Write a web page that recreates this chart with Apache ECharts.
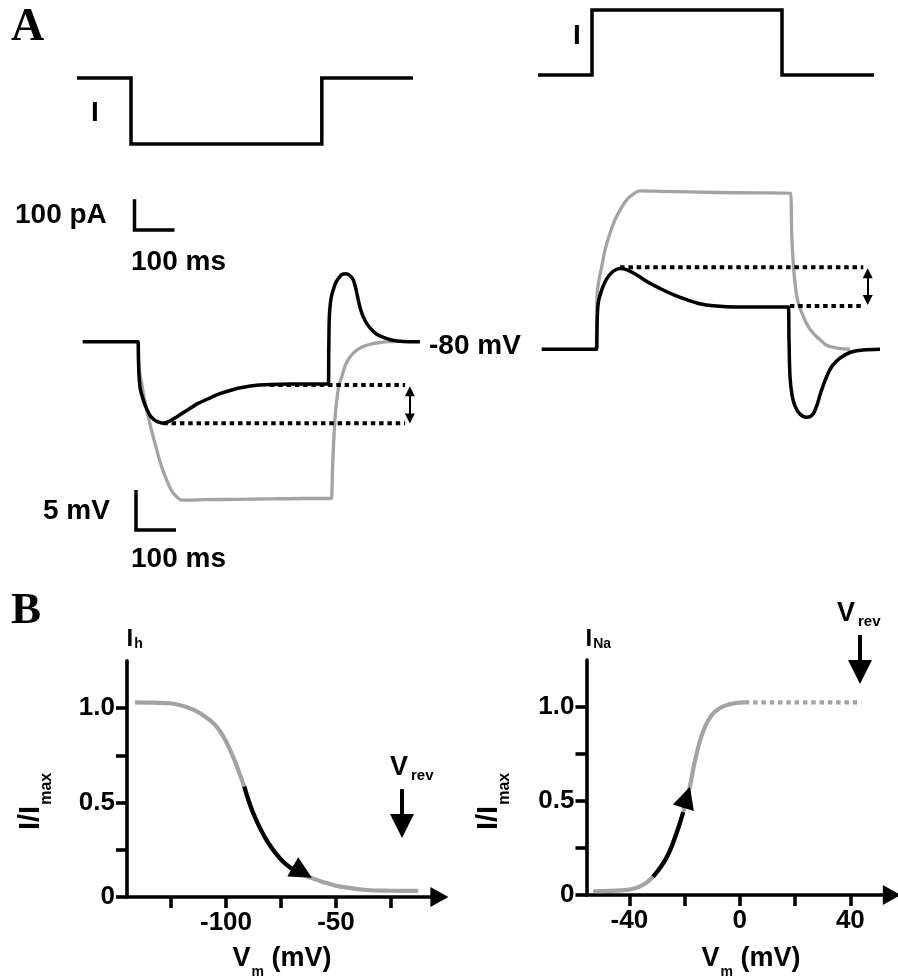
<!DOCTYPE html>
<html>
<head>
<meta charset="utf-8">
<script src="https://cdn.jsdelivr.net/npm/echarts@6.0.0/dist/echarts.min.js"></script>
<style>
html,body{margin:0;padding:0;background:#fff;}
#chart{width:898px;height:978px;}
</style>
</head>
<body>
<div id="chart"></div>
<script>
// ================= DATA =================
// Panel A – command current steps: time (ms), current (pA)
const stepHypTime = [0, 135, 135, 612, 612, 840];
const stepHypCurrent = [0, 0, -213, -213, 0, 0];
const stepDepTime = [0, 135, 135, 610, 610, 840];
const stepDepCurrent = [0, 0, 210, 210, 0, 0];

// Panel A – hyperpolarizing step responses: time (ms), Vm (mV)
const hypBlackTime = [0, 134, 138.5, 139.3, 141, 144, 151.5, 160, 168, 177, 186.5, 201.5, 215, 235, 260, 285, 315, 343, 375, 401.5, 435, 468, 520, 580, 611, 614, 615.2, 616.5, 619, 622, 626.5, 632, 639, 648, 658, 667, 676.5, 683, 689, 695, 701.5, 711, 722.5, 736, 751.5, 770, 785, 815, 843];
const hypBlackV = [-80, -80, -80, -82, -84.4, -85.9, -87.3, -88.4, -89.2, -89.7, -90.0, -90.2, -90.0, -89.4, -88.6, -87.8, -87.1, -86.5, -86.0, -85.7, -85.45, -85.35, -85.3, -85.3, -85.3, -85.3, -81.0, -76.9, -75.3, -74.3, -73.5, -72.7, -72.1, -71.6, -71.5, -71.7, -72.3, -73.4, -74.8, -76.0, -76.9, -77.8, -78.5, -79.1, -79.45, -79.75, -79.9, -80, -80];
const hypGrayTime = [136, 138.5, 139.5, 141, 144, 147.5, 155, 164, 174, 185, 197, 210, 222, 235, 247.5, 270, 300, 385, 470, 551.5, 620, 622.5, 624.5, 626.5, 630.5, 635, 641, 647.5, 657, 668, 684, 701.5, 720, 743, 768, 780];
const hypGrayV = [-80, -80, -81.5, -83.2, -84.3, -85.2, -87.4, -89.4, -91.5, -93.5, -95.6, -97.3, -98.6, -99.4, -99.8, -99.8, -99.75, -99.7, -99.65, -99.6, -99.6, -99.4, -96.0, -93.5, -89.8, -87.3, -85.4, -84.4, -82.9, -81.9, -81.1, -80.6, -80.3, -80.1, -80, -80];
const hypDotHighTime = [468, 806];
const hypDotHighV = [-85.4, -85.4];
const hypDotLowTime = [201.5, 806];
const hypDotLowV = [-90.2, -90.2];
const hypArrowTime = [818, 818];
const hypArrowV = [-86.2, -89.6];

// Panel A – depolarizing step responses: time (ms), Vm (mV)
const depBlackTime = [0, 135, 137.5, 138.2, 139, 142, 150, 157, 166.5, 180, 196, 215, 237.5, 265, 296, 330, 362.5, 395, 429, 487.5, 550, 612.5, 616.5, 618.25, 620.75, 625.75, 633.25, 645.75, 663.25, 678.25, 688.25, 698.25, 712.5, 725.75, 745.75, 770.75, 803.25, 845.75];
const depBlackV = [-80, -80, -80, -78, -75.9, -74.0, -72.6, -71.7, -70.9, -70.2, -69.9, -70.1, -70.7, -71.6, -72.4, -73.2, -73.8, -74.3, -74.55, -74.7, -74.7, -74.7, -74.7, -78.8, -83.4, -85.7, -87.1, -88.1, -88.5, -88.1, -86.96, -85.3, -83.4, -82.1, -81.1, -80.4, -80.1, -80];
const depGrayTime = [136.5, 137.5, 138.75, 143.25, 150, 158.25, 170.75, 183.25, 195.75, 208.25, 220.75, 245.75, 300, 437.5, 540, 622.5, 624, 625, 628.25, 633.25, 640.75, 654, 665.75, 679, 695.75, 712.5, 733.25, 754, 770.75];
const depGrayV = [-80, -76.3, -73, -71.3, -69.7, -67.6, -65.5, -63.8, -62.6, -61.6, -60.9, -60.2, -60.25, -60.4, -60.45, -60.5, -62.6, -65.5, -68.8, -71.75, -74.1, -75.9, -77.1, -78, -78.8, -79.5, -79.8, -79.96, -80];
const depDotHighTime = [196, 804];
const depDotHighV = [-69.75, -69.75];
const depDotLowTime = [620.5, 804];
const depDotLowV = [-74.6, -74.6];
const depArrowTime = [815, 815];
const depArrowV = [-70.5, -73.85];

// Scale bars
const scaleBarTime = [0, 0, 100];        // ms
const scaleBarCurrent = [100, 0, 0];     // pA
const scaleBarVoltage = [5, 0, 0];       // mV

// Panel B – Ih activation curve: Vm (mV), I/Imax
const ihV = [-141.4, -133, -125.5, -118, -111.8, -104.2, -98.2, -91.7, -87.6, -81.5, -74, -66.4, -61, -56, -51.2, -44, -36, -25, -12.6];
const ihI = [1.03, 1.028, 1.025, 1.005, 0.972, 0.90, 0.78, 0.584, 0.443, 0.30, 0.187, 0.125, 0.10, 0.08, 0.063, 0.048, 0.037, 0.033, 0.032];
const ihArrowV = [-69.7, -65.3];
const ihArrowI = [0.160, 0.131];
const ihVrev = -20;
const ihVrevArrowI = [0.571, 0.376];
const ihXTicks = [-125, -100, -75, -50, -25];
const ihXLabels = [-100, -50];

// Panel B – INa activation curve
const naV = [-53.1, -47, -41, -36.2, -31.4, -26.5, -22.9, -20.5, -18.1, -16.3, -13.3, -9.7, -4.8, 1.8];
const naI = [0.02, 0.022, 0.027, 0.044, 0.097, 0.20, 0.33, 0.44, 0.576, 0.71, 0.87, 0.965, 1.01, 1.025];
const naPlateauV = [1.8, 44];
const naPlateauI = [1.025, 1.025];
const naArrowV = [-20.45, -19.26];
const naArrowI = [0.464, 0.520];
const naVrev = 43.5;
const naVrevArrowI = [1.383, 1.186];
const naXTicks = [-40, -20, 0, 20, 40];
const naXLabels = [-40, 0, 40];

const yTicks = [0, 0.25, 0.5, 0.75, 1.0];
const yLabels = [0, 0.5, 1.0];

// ================= RENDER =================
const FONT = '"Liberation Sans", Arial, sans-serif';
const SERIF = '"Liberation Serif", "Times New Roman", serif';
const GRAY = '#a3a3a3';
const pair = (xs, ys) => xs.map((x, i) => [x, ys[i]]);

const chart = echarts.init(document.getElementById('chart'), null, {renderer: 'canvas', width: 898, height: 978});

const grids = [
  {left: 77, top: 62.5, width: 340, height: 93},        // 0 hyp step
  {left: 538, top: 3.7, width: 340, height: 86.8},      // 1 dep step
  {left: 82.7, top: 221.7, width: 340, height: 320},    // 2 hyp traces
  {left: 541.7, top: 149.3, width: 340, height: 320},   // 3 dep traces
  {left: 134.5, top: 199.3, width: 40, height: 30.7},   // 4 pA scale bar
  {left: 136, top: 490, width: 40, height: 40},         // 5 mV scale bar
  {left: 586.5, top: 613, width: 305.3, height: 282},   // 6 INa overlay (extended I range, for Vrev arrow)
  {left: 127, top: 660.75, width: 312.4, height: 236.25}, // 7 Ih
  {left: 586.5, top: 660, width: 305.3, height: 235}    // 8 INa
].map(g => Object.assign({containLabel: false, outerBoundsMode: 'none'}, g));

const hidden = [
  [0, 850, -250, 50],
  [0, 850, -50, 230],
  [0, 850, -105, -65],
  [0, 850, -95, -55],
  [0, 100, 0, 100],
  [0, 100, 0, 5],
  [-55.5, 55, 0, 1.5]
];
const xAxes = [], yAxes = [];
hidden.forEach((r, i) => {
  xAxes.push({type: 'value', gridIndex: i, min: r[0], max: r[1], show: false});
  yAxes.push({type: 'value', gridIndex: i, min: r[2], max: r[3], show: false});
});
const axLine = {color: '#000', width: 3.6};
const lblStyle = {color: '#000', fontSize: 26, fontWeight: 'bold', fontFamily: FONT};
function bX(gi, min, max, ticks, labels) {
  return {type: 'value', gridIndex: gi, min, max,
    axisLine: {show: true, onZero: false, symbol: ['none', 'triangle'], symbolSize: [20, 18], lineStyle: axLine},
    axisTick: {show: true, customValues: ticks, length: 11, lineStyle: axLine},
    axisLabel: Object.assign({show: true, customValues: labels, margin: 13}, lblStyle),
    splitLine: {show: false}};
}
function bY(gi) {
  return {type: 'value', gridIndex: gi, min: 0, max: 1.25,
    axisLine: {show: true, onZero: false, lineStyle: axLine},
    axisTick: {show: true, customValues: yTicks, length: 11, lineStyle: axLine},
    axisLabel: Object.assign({show: true, customValues: yLabels, margin: 12,
      formatter: v => (v === 0 ? '0' : v.toFixed(1))}, lblStyle),
    splitLine: {show: false}};
}
xAxes.push(bX(7, -145, -3, ihXTicks, ihXLabels));
yAxes.push(bY(7));
xAxes.push(bX(8, -55.5, 55, naXTicks, naXLabels));
yAxes.push(bY(8));

function line(gi, data, color, width, extra) {
  return Object.assign({type: 'line', xAxisIndex: gi, yAxisIndex: gi, data, symbol: 'none', showSymbol: false,
    clip: false, silent: true, animation: false,
    lineStyle: {color, width, cap: 'butt', join: 'round'}}, extra || {});
}
function dotted(gi, data, color, width) {
  return line(gi, data, color, width, {lineStyle: {color, width, type: [4.5, 3.8], cap: 'butt'}});
}
function arrowLine(gi, p0, p1, width, sizes, symbols) {
  return {type: 'line', xAxisIndex: gi, yAxisIndex: gi, data: [], clip: false, silent: true, animation: false,
    markLine: {silent: true, animation: false, symbol: symbols, symbolSize: sizes,
      label: {show: false}, emphasis: {disabled: true},
      lineStyle: {type: 'solid', color: '#000', width},
      data: [[{coord: p0}, {coord: p1}]]}};
}

const series = [
  line(0, pair(stepHypTime, stepHypCurrent), '#000', 3.5, {lineStyle: {color: '#000', width: 3.5, join: 'miter'}}),
  line(1, pair(stepDepTime, stepDepCurrent), '#000', 3.5, {lineStyle: {color: '#000', width: 3.5, join: 'miter'}}),
  line(2, pair(hypGrayTime, hypGrayV), GRAY, 3.3, {smooth: 0.3}),
  dotted(2, pair(hypDotHighTime, hypDotHighV), '#000', 4),
  dotted(2, pair(hypDotLowTime, hypDotLowV), '#000', 4),
  line(2, pair(hypBlackTime, hypBlackV), '#000', 3.5, {smooth: 0.3}),
  arrowLine(2, [hypArrowTime[0], hypArrowV[0]], [hypArrowTime[1], hypArrowV[1]], 2, 10, ['triangle', 'triangle']),
  line(3, pair(depGrayTime, depGrayV), GRAY, 3.3, {smooth: 0.3}),
  dotted(3, pair(depDotHighTime, depDotHighV), '#000', 4),
  dotted(3, pair(depDotLowTime, depDotLowV), '#000', 4),
  line(3, pair(depBlackTime, depBlackV), '#000', 3.5, {smooth: 0.3}),
  arrowLine(3, [depArrowTime[0], depArrowV[0]], [depArrowTime[1], depArrowV[1]], 2, 10, ['triangle', 'triangle']),
  line(4, pair(scaleBarTime, scaleBarCurrent), '#000', 3.5, {lineStyle: {color: '#000', width: 3.5, join: 'miter'}}),
  line(5, pair(scaleBarTime, scaleBarVoltage), '#000', 3.5, {lineStyle: {color: '#000', width: 3.5, join: 'miter'}}),
  arrowLine(6, [naVrev, naVrevArrowI[0]], [naVrev, naVrevArrowI[1]], 4, 24, ['none', 'triangle']),
  line(7, pair(ihV, ihI), GRAY, 4.2, {smooth: 0.4}),
  line(7, pair(ihV.slice(7, 12), ihI.slice(7, 12)), '#000', 4.2, {smooth: 0.4}),
  arrowLine(7, [ihArrowV[0], ihArrowI[0]], [ihArrowV[1], ihArrowI[1]], 4, 22, ['none', 'triangle']),
  arrowLine(7, [ihVrev, ihVrevArrowI[0]], [ihVrev, ihVrevArrowI[1]], 4, 24, ['none', 'triangle']),
  dotted(8, pair(naPlateauV, naPlateauI), GRAY, 4.2),
  line(8, pair(naV, naI), GRAY, 4.2, {smooth: 0.4}),
  line(8, pair(naV.slice(4, 8), naI.slice(4, 8)), '#000', 4.2, {smooth: 0.4}),
  arrowLine(8, [naArrowV[0], naArrowI[0]], [naArrowV[1], naArrowI[1]], 4, 22, ['none', 'triangle'])
];

// ---------- text helpers ----------
const mctx = document.createElement('canvas').getContext('2d');
function fontStr(size, fam) { return 'bold ' + size + 'px ' + (fam || FONT); }
function measure(t, size, fam) { mctx.font = fontStr(size, fam); return mctx.measureText(t).width; }
function txt(x, y, t, size, fam) {
  return {type: 'text', x, y, silent: true,
    style: {text: t, font: fontStr(size, fam), fill: '#000', textAlign: 'left', textVerticalAlign: 'middle', align: 'left', verticalAlign: 'middle'}};
}
function seq(x, y, parts, anchor) {
  let total = 0;
  parts.forEach(p => { total += (p.gap || 0) + measure(p.t, p.s); });
  let cx = anchor === 'center' ? x - total / 2 : x;
  const out = [];
  parts.forEach(p => {
    cx += p.gap || 0;
    out.push(txt(cx, y + (p.dy || 0), p.t, p.s));
    cx += measure(p.t, p.s);
  });
  return out;
}
function vertTitle(gx, gy) {
  return {type: 'group', x: gx, y: gy, rotation: Math.PI / 2, silent: true,
    children: seq(0, 0, [{t: 'I/I', s: 29}, {t: 'max', s: 16, dy: 16, gap: 1}], 'left')};
}

const graphics = [
  txt(11, 28, 'A', 46, SERIF),
  txt(11, 611, 'B', 45, SERIF),
  txt(91, 113, 'I', 28),
  txt(573, 36, 'I', 28),
  txt(15, 215, '100 pA', 28),
  txt(131, 262, '100 ms', 28),
  txt(43, 511, '5 mV', 28),
  txt(131, 559, '100 ms', 28),
  txt(429, 346, '-80 mV', 28),
  ...seq(126.5, 639, [{t: 'I', s: 24}, {t: 'h', s: 14, dy: 5, gap: 1}], 'left'),
  ...seq(585.5, 639, [{t: 'I', s: 24}, {t: 'Na', s: 14, dy: 5, gap: 1}], 'left'),
  ...seq(390, 768, [{t: 'V', s: 27}, {t: 'rev', s: 15, dy: 8, gap: 3}], 'left'),
  ...seq(837, 614, [{t: 'V', s: 27}, {t: 'rev', s: 15, dy: 8, gap: 3}], 'left'),
  ...seq(282, 959, [{t: 'V', s: 27}, {t: 'm', s: 14, dy: 13, gap: 1}, {t: ' (mV)', s: 27}], 'center'),
  ...seq(751, 959, [{t: 'V', s: 27}, {t: 'm', s: 14, dy: 13, gap: 1}, {t: ' (mV)', s: 27}], 'center'),
  vertTitle(31, 830),
  vertTitle(489, 830)
];

chart.setOption({
  animation: false,
  backgroundColor: '#fff',
  grid: grids,
  xAxis: xAxes,
  yAxis: yAxes,
  series,
  graphic: {elements: graphics}
});
</script>
</body>
</html>
